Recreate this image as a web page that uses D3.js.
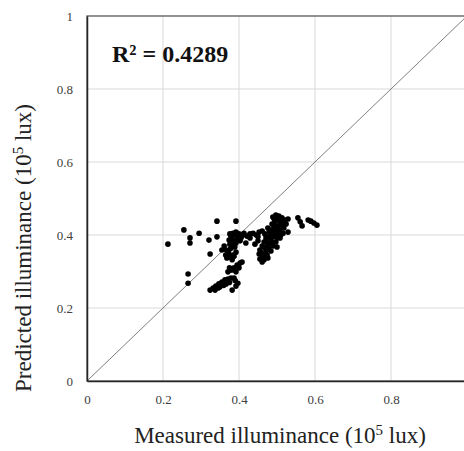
<!DOCTYPE html>
<html>
<head>
<meta charset="utf-8">
<script src="https://cdn.jsdelivr.net/npm/d3@7"></script>
<style>
  body { margin: 0; background: #fff; }
  text { font-family: "Liberation Serif", "DejaVu Serif", serif; }
</style>
</head>
<body>
<div class="chart"></div>
<script>
// measured (x) vs predicted (y), both in 10^5 lux
const measured = [
  0.213, 0.255, 0.271, 0.271, 0.266, 0.266, 0.295, 0.321, 0.342, 0.342, 0.324, 0.392, 0.418, 0.529,
  0.324, 0.332, 0.339, 0.347, 0.355, 0.363, 0.371, 0.379, 0.387, 0.382, 0.392, 0.397, 0.350, 0.366,
  0.360, 0.375, 0.345, 0.337, 0.390,
  0.379, 0.387, 0.395, 0.403, 0.408, 0.371, 0.392, 0.400, 0.383, 0.398, 0.375,
  0.361, 0.366, 0.371, 0.376, 0.382, 0.387, 0.392, 0.389, 0.384, 0.368, 0.355, 0.372, 0.378, 0.383, 0.365,
  0.374, 0.379, 0.384, 0.392, 0.400, 0.408, 0.413, 0.397, 0.387, 0.403, 0.376, 0.392,
  0.380, 0.390, 0.395, 0.405, 0.384, 0.376,
  0.421, 0.429, 0.437, 0.445, 0.453, 0.461, 0.468, 0.429, 0.450,
  0.489, 0.497, 0.505, 0.513, 0.521, 0.529, 0.495, 0.508, 0.524, 0.487, 0.500, 0.515, 0.493,
  0.476, 0.487, 0.497, 0.508, 0.518, 0.482, 0.495, 0.505, 0.516, 0.471, 0.484, 0.497, 0.508,
  0.492, 0.502, 0.512, 0.480, 0.490, 0.500, 0.510, 0.478, 0.488, 0.500,
  0.466, 0.476, 0.489, 0.500, 0.461, 0.471, 0.484, 0.455, 0.470, 0.480, 0.490, 0.468, 0.478,
  0.453, 0.463, 0.474, 0.455, 0.466, 0.476, 0.461, 0.450, 0.442, 0.458, 0.470,
  0.555, 0.561, 0.566, 0.582, 0.589, 0.597, 0.605
];
const predicted = [
  0.375, 0.414, 0.392, 0.378, 0.293, 0.268, 0.405, 0.386, 0.395, 0.438, 0.348, 0.438, 0.378, 0.408,
  0.249, 0.255, 0.260, 0.266, 0.271, 0.277, 0.279, 0.282, 0.282, 0.249, 0.260, 0.268, 0.258, 0.266,
  0.262, 0.270, 0.255, 0.249, 0.275,
  0.304, 0.310, 0.318, 0.323, 0.326, 0.299, 0.299, 0.310, 0.305, 0.315, 0.310,
  0.370, 0.359, 0.348, 0.340, 0.332, 0.342, 0.353, 0.367, 0.375, 0.337, 0.359, 0.355, 0.363, 0.345, 0.345,
  0.386, 0.397, 0.405, 0.408, 0.403, 0.397, 0.405, 0.392, 0.386, 0.384, 0.375, 0.378,
  0.392, 0.400, 0.386, 0.392, 0.380, 0.403,
  0.397, 0.403, 0.405, 0.400, 0.408, 0.411, 0.403, 0.392, 0.395,
  0.449, 0.455, 0.452, 0.447, 0.441, 0.444, 0.438, 0.436, 0.430, 0.430, 0.445, 0.438, 0.443,
  0.419, 0.414, 0.419, 0.414, 0.419, 0.403, 0.397, 0.403, 0.405, 0.392, 0.386, 0.381, 0.392,
  0.425, 0.425, 0.428, 0.410, 0.405, 0.410, 0.400, 0.395, 0.395, 0.392,
  0.381, 0.373, 0.370, 0.367, 0.370, 0.359, 0.356, 0.359, 0.382, 0.378, 0.380, 0.365, 0.362,
  0.348, 0.342, 0.345, 0.334, 0.332, 0.337, 0.326, 0.384, 0.375, 0.352, 0.350,
  0.447, 0.436, 0.425, 0.441, 0.438, 0.433, 0.427
];
const tickValues = [0, 0.2, 0.4, 0.6, 0.8, 1];
const tickLabels = ['0', '0.2', '0.4', '0.6', '0.8', '1'];
const r2Label = 'R² = 0.4289';

const points = measured.map((m, i) => ({ x: m, y: predicted[i] }));

const svg_width = 464, svg_height = 451;
const margin = { top: 16, left: 87 };
const chart_width = 380, chart_height = 365;

const svg = d3.select('.chart').append('svg')
  .attr('width', svg_width).attr('height', svg_height);
const g = svg.append('g').attr('transform', `translate(${margin.left},${margin.top})`);

const xScale = d3.scaleLinear().domain([0, 1]).range([0, chart_width]);
const yScale = d3.scaleLinear().domain([0, 1]).range([chart_height, 0]);

// gridlines
g.append('g').selectAll('line.vg').data(tickValues.slice(1, -1)).enter()
  .append('line')
  .attr('x1', d => xScale(d)).attr('x2', d => xScale(d))
  .attr('y1', 0).attr('y2', chart_height)
  .style('stroke', '#d9d9d9').style('stroke-width', 1);
g.append('g').selectAll('line.hg').data(tickValues.slice(1, -1)).enter()
  .append('line')
  .attr('y1', d => yScale(d)).attr('y2', d => yScale(d))
  .attr('x1', 0).attr('x2', chart_width)
  .style('stroke', '#d9d9d9').style('stroke-width', 1);

// frame (top / right)
g.append('rect').attr('x', 0).attr('y', 0)
  .attr('width', chart_width).attr('height', chart_height)
  .style('fill', 'none').style('stroke', '#595959').style('stroke-width', 1.3);

// 1:1 line
g.append('line')
  .attr('x1', xScale(0)).attr('y1', yScale(0))
  .attr('x2', xScale(1)).attr('y2', yScale(1))
  .style('stroke', '#7f7f7f').style('stroke-width', 1);

// axes
const xAxis = d3.axisBottom(xScale).tickValues(tickValues)
  .tickFormat((d, i) => tickLabels[i]).tickSize(0).tickPadding(14);
const xAxisG = g.append('g').attr('transform', `translate(0,${chart_height})`).call(xAxis);
const yAxis = d3.axisLeft(yScale).tickValues(tickValues)
  .tickFormat((d, i) => tickLabels[i]).tickSize(0).tickPadding(14);
const yAxisG = g.append('g').call(yAxis);
[xAxisG, yAxisG].forEach(a => {
  a.select('.domain').style('stroke', '#262626').style('stroke-width', 1.5);
  a.selectAll('text').style('font-family', '"Liberation Serif", serif')
    .style('font-size', '13px').style('fill', '#404040');
});

// points
g.append('g').selectAll('circle').data(points).enter()
  .append('circle')
  .attr('cx', d => xScale(d.x)).attr('cy', d => yScale(d.y))
  .attr('r', 2.8).style('fill', '#000');

// R² annotation
g.append('text').attr('x', 25).attr('y', 46)
  .text(r2Label)
  .style('font-size', '24px').style('font-weight', 'bold').style('fill', '#111');

// axis titles
const xTitle = svg.append('text').attr('x', 280).attr('y', 443)
  .style('text-anchor', 'middle').style('font-size', '23px').style('fill', '#222');
xTitle.append('tspan').text('Measured illuminance (10');
xTitle.append('tspan').text('5').attr('dy', -8).style('font-size', '15px');
xTitle.append('tspan').text(' lux)').attr('dy', 8);

const yTitle = svg.append('text')
  .attr('transform', 'translate(31,248) rotate(-90)')
  .style('text-anchor', 'middle').style('font-size', '23px').style('fill', '#222');
yTitle.append('tspan').text('Predicted illuminance (10');
yTitle.append('tspan').text('5').attr('dy', -8).style('font-size', '15px');
yTitle.append('tspan').text(' lux)').attr('dy', 8);
</script>
</body>
</html>
